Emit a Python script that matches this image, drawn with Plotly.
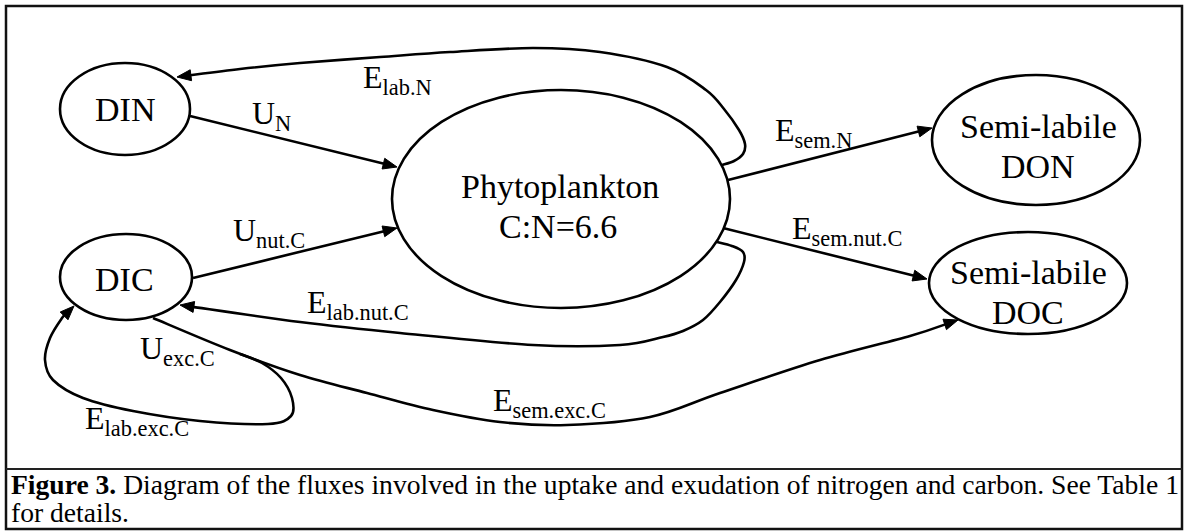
import plotly.graph_objects as go

W, H = 1187, 532
SERIF = "Liberation Serif"

# ---------------- data ----------------
# pools (ellipses)
node_names = ["DIN", "DIC", "Phytoplankton", "DON", "DOC"]
node_cx = [125, 126, 561, 1036, 1028]
node_cy = [109, 277, 199, 140, 283]
node_rx = [65, 66, 169, 104, 99]
node_ry = [46, 43, 109, 65, 51]

# pool label lines (x centre, baseline y)
label_text = ["DIN", "DIC", "Phytoplankton", "C:N=6.6", "Semi-labile", "DON", "Semi-labile", "DOC"]
label_x = [125, 124, 560, 558, 1038, 1038, 1028, 1028]
label_base = [120, 290, 197, 237, 137, 177, 283, 323]

# flux paths (waypoints, last point = arrow tip)
uN_x = [190, 397]
uN_y = [116, 167]
unutC_x = [193, 397]
unutC_y = [278, 228]
esemN_x = [728, 932]
esemN_y = [180, 128]
esemnutC_x = [723, 927]
esemnutC_y = [228, 279]
elabN_x = [722, 734, 743, 745, 739, 724, 706, 667, 600, 533, 450, 380, 300, 240, 177]
elabN_y = [165, 161, 154, 144, 130, 109, 90, 67, 52, 48, 52, 57, 63, 69, 77]
elabnutC_x = [717, 732, 743, 744, 736, 720, 703, 683, 663, 620, 533, 400, 300, 180]
elabnutC_y = [242, 246, 252, 262, 280, 302, 320, 331, 337, 345, 345, 333, 322, 305]
semexcC_x = [153, 230, 300, 367, 433, 500, 567, 650, 720, 820, 910, 958]
semexcC_y = [318, 350, 375, 393, 410, 422, 425, 417, 393, 360, 336, 320]
labexcC_x = [240, 262, 281, 292, 291, 268, 200, 133, 83, 53, 45, 50, 62, 74]
labexcC_y = [354, 363, 378, 398, 416, 424, 421, 411, 398, 380, 360, 338, 318, 306]

# flux labels (left x of main letter, baseline y)
flux_base = ["U", "U", "E", "E", "E", "E", "U", "E", "E"]
flux_sub = ["N", "nut.C", "lab.N", "sem.N", "sem.nut.C", "lab.nut.C", "exc.C", "lab.exc.C", "sem.exc.C"]
flux_x = [252, 233, 363, 775, 792, 307, 140, 85, 493]
flux_base_y = [123, 240, 87, 140, 238, 312, 358, 428, 410]

caption_lines = [
    "<b>Figure 3.</b> Diagram of the fluxes involved in the uptake and exudation of nitrogen and carbon. See Table 1",
    "for details.",
]
caption_x = [11, 11]
caption_base = [493, 521]

frame_box = [6, 6, 1182, 529]
separator_y = 469

# ---------------- helpers ----------------
LW = 2.6


def smooth_path(xs, ys):
    pts = list(zip(xs, ys))
    n = len(pts)
    if n == 2:
        return f"M {pts[0][0]},{pts[0][1]} L {pts[1][0]},{pts[1][1]}"
    s = f"M {pts[0][0]},{pts[0][1]}"
    for i in range(n - 1):
        p0 = pts[i - 1] if i > 0 else pts[i]
        p1 = pts[i]
        p2 = pts[i + 1]
        p3 = pts[i + 2] if i + 2 < n else pts[i + 1]
        c1 = (p1[0] + (p2[0] - p0[0]) / 6, p1[1] + (p2[1] - p0[1]) / 6)
        c2 = (p2[0] - (p3[0] - p1[0]) / 6, p2[1] - (p3[1] - p1[1]) / 6)
        s += f" C {c1[0]:.2f},{c1[1]:.2f} {c2[0]:.2f},{c2[1]:.2f} {p2[0]:.2f},{p2[1]:.2f}"
    return s


def arrow_head(xs, ys, L=14, w=5.5):
    tx, ty = xs[-1], ys[-1]
    dx, dy = tx - xs[-2], ty - ys[-2]
    m = (dx * dx + dy * dy) ** 0.5
    dx, dy = dx / m, dy / m
    bx, by = tx - dx * L, ty - dy * L
    nx, ny = -dy, dx
    return (f"M {tx},{ty} L {bx + nx * w:.2f},{by + ny * w:.2f} "
            f"L {bx - nx * w:.2f},{by - ny * w:.2f} Z")


def trimmed(xs, ys, cut=8):
    xs, ys = list(xs), list(ys)
    dx, dy = xs[-1] - xs[-2], ys[-1] - ys[-2]
    m = (dx * dx + dy * dy) ** 0.5
    xs[-1] = xs[-1] - dx / m * cut
    ys[-1] = ys[-1] - dy / m * cut
    return xs, ys


fig = go.Figure()
fig.add_trace(go.Scatter(x=[0, W], y=[0, H], mode="markers",
                         marker=dict(opacity=0), hoverinfo="skip"))

shapes = []
# frame
shapes.append(dict(type="rect", xref="x", yref="y", x0=frame_box[0], y0=frame_box[1],
                   x1=frame_box[2], y1=frame_box[3], line=dict(color="#111", width=2.5)))
shapes.append(dict(type="line", xref="x", yref="y", x0=frame_box[0], x1=frame_box[2],
                   y0=separator_y, y1=separator_y, line=dict(color="#222", width=2.2)))

# ellipses
for cx, cy, rx, ry in zip(node_cx, node_cy, node_rx, node_ry):
    shapes.append(dict(type="circle", xref="x", yref="y", x0=cx - rx, x1=cx + rx,
                       y0=cy - ry, y1=cy + ry, line=dict(color="black", width=LW)))

arrows = [(uN_x, uN_y), (unutC_x, unutC_y), (esemN_x, esemN_y), (esemnutC_x, esemnutC_y),
          (elabN_x, elabN_y), (elabnutC_x, elabnutC_y), (semexcC_x, semexcC_y),
          (labexcC_x, labexcC_y)]
for xs, ys in arrows:
    txs, tys = trimmed(xs, ys)
    shapes.append(dict(type="path", xref="x", yref="y", path=smooth_path(txs, tys),
                       line=dict(color="black", width=LW)))
    shapes.append(dict(type="path", xref="x", yref="y", path=arrow_head(xs, ys),
                       fillcolor="black", line=dict(color="black", width=1)))

annotations = []
FS_NODE = 34
for t, x, b in zip(label_text, label_x, label_base):
    annotations.append(dict(x=x, y=b - 0.891 * FS_NODE - 1, xref="x", yref="y", text=t,
                            showarrow=False, xanchor="center", yanchor="top",
                            font=dict(family=SERIF, size=FS_NODE, color="black")))
FS_FLUX = 32
for base, sub, x, b in zip(flux_base, flux_sub, flux_x, flux_base_y):
    annotations.append(dict(x=x - 2, y=b - 0.891 * FS_FLUX - 1, xref="x", yref="y",
                            text=f"{base}<sub>{sub}</sub>",
                            showarrow=False, xanchor="left", yanchor="top",
                            font=dict(family=SERIF, size=FS_FLUX, color="black")))
FS_CAP = 27.6
for t, x, b in zip(caption_lines, caption_x, caption_base):
    annotations.append(dict(x=x - 2, y=b - 0.891 * FS_CAP - 1, xref="x", yref="y", text=t,
                            showarrow=False, xanchor="left", yanchor="top",
                            font=dict(family=SERIF, size=FS_CAP, color="black")))

fig.update_layout(
    width=W, height=H,
    margin=dict(l=0, r=0, t=0, b=0, pad=0),
    paper_bgcolor="white", plot_bgcolor="white",
    font=dict(family=SERIF),
    xaxis=dict(range=[0, W], visible=False, fixedrange=True),
    yaxis=dict(range=[H, 0], visible=False, fixedrange=True),
    showlegend=False,
    shapes=shapes,
    annotations=annotations,
)

fig.write_html("out.html", post_script="document.body.style.margin='0';",
               config={"displayModeBar": False})
